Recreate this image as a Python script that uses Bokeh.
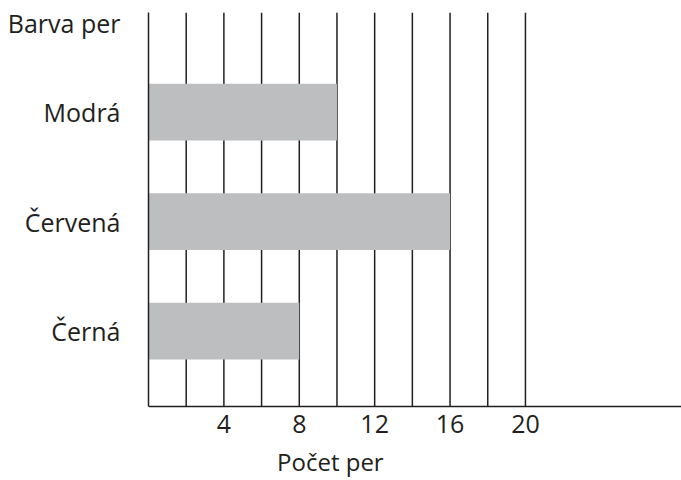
from bokeh.plotting import figure
from bokeh.models import Range1d, FixedTicker, LinearAxis
from bokeh.embed import file_html
from bokeh.resources import INLINE

categories = ["Modrá", "Červená", "Černá"]
counts = [10, 16, 8]
x_tick_values = [4, 8, 12, 16, 20]
grid_values = [2, 4, 6, 8, 10, 12, 14, 16, 18, 20]
x_title = "Počet per"
y_title = "Barva per"

INK = "#231f20"
BAR = "#bcbec0"
FONT = "Open Sans"
FS = "25px"

n = len(categories)
ypos = [float(n - i) for i in range(n)]
y_title_pos = 3.81
x_title_pos = 9.65
y_axis_at = 0.312
y_top = 3.91

p = figure(width=681, height=480, output_backend="svg", toolbar_location=None,
           x_range=Range1d(0, 28.28), y_range=Range1d(-0.364, y_top),
           min_border_left=148, min_border_top=12, min_border_right=0, min_border_bottom=0,
           x_axis_location=None)
p.outline_line_color = None
p.background_fill_color = "white"
p.border_fill_color = "white"
p.xgrid.visible = False
p.ygrid.visible = False

# vertical grid lines (limited to the plotting area above the x axis)
p.segment(x0=grid_values, x1=grid_values, y0=[y_axis_at] * len(grid_values),
          y1=[y_top] * len(grid_values), line_color=INK, line_width=1.5)

p.hbar(y=ypos, right=counts, left=0, height=0.52, fill_color=BAR, line_color=None)

# x axis with numbers
xaxis = LinearAxis(ticker=FixedTicker(ticks=x_tick_values), fixed_location=y_axis_at)
xaxis.axis_line_color = INK
xaxis.axis_line_width = 1.5
xaxis.major_tick_line_color = None
xaxis.major_tick_out = 0
xaxis.minor_tick_line_color = None
xaxis.major_label_text_font = FONT
xaxis.major_label_text_font_size = FS
xaxis.major_label_text_color = INK
xaxis.major_label_standoff = 9
p.add_layout(xaxis, "below")

# second axis carrying the x title as its label
title_axis = LinearAxis(ticker=FixedTicker(ticks=[x_title_pos]),
                        major_label_overrides={x_title_pos: x_title},
                        fixed_location=y_axis_at)
title_axis.axis_line_color = None
title_axis.major_tick_line_color = None
title_axis.major_tick_out = 0
title_axis.minor_tick_line_color = None
title_axis.major_label_text_font = FONT
title_axis.major_label_text_font_size = "24px"
title_axis.major_label_text_color = INK
title_axis.major_label_standoff = 39
p.add_layout(title_axis, "below")

# y axis (title shown as top label)
yticks = ypos + [y_title_pos]
overrides = {y: c for y, c in zip(ypos, categories)}
overrides[y_title_pos] = y_title
p.yaxis.ticker = FixedTicker(ticks=yticks)
p.yaxis.major_label_overrides = overrides
p.yaxis.bounds = (y_axis_at, y_top)
p.yaxis.axis_line_color = INK
p.yaxis.axis_line_width = 1.5
p.yaxis.major_tick_line_color = None
p.yaxis.major_tick_out = 0
p.yaxis.minor_tick_line_color = None
p.yaxis.major_label_text_font = FONT
p.yaxis.major_label_text_font_size = FS
p.yaxis.major_label_text_color = INK
p.yaxis.major_label_standoff = 28

open("out.html", "w").write(file_html(p, INLINE))
